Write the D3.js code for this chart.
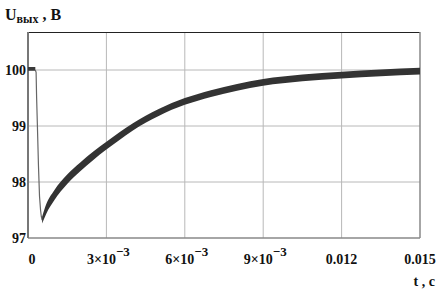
<!DOCTYPE html>
<html><head><meta charset="utf-8">
<script src="https://cdn.jsdelivr.net/npm/d3@7"></script>
<style>
html,body{margin:0;padding:0;background:#fff;}
svg text{font-family:"Liberation Serif","Times New Roman",serif;font-weight:bold;fill:#111;}
</style></head>
<body><svg id="c" width="440" height="290"></svg>
<script>
// ---- data ----
const xTicks = [0, 0.003, 0.006, 0.009, 0.012, 0.015];
const xTickLabels = [["0", ""], ["3\u00D710", "\u22123"], ["6\u00D710", "\u22123"], ["9\u00D710", "\u22123"], ["0.012", ""], ["0.015", ""]];
const yTicks = [97, 98, 99, 100];
const yTickLabels = ["97", "98", "99", "100"];
// steady state before the load step
const tFlat = [0, 0.0001, 0.0002, 0.00028];
const uFlat = [100.02, 100.02, 100.02, 100.02];
const rFlat = [0.035, 0.035, 0.035, 0.035];
// fast drop after the step
const tDrop = [0.00028, 0.00031, 0.00033, 0.00036, 0.0004, 0.00044, 0.00048, 0.00051, 0.00054];
const uDrop = [100.0, 99.96, 99.5, 99.0, 98.3, 97.75, 97.5, 97.38, 97.32];
// recovery (centre of the ripple band) and ripple half-amplitude
const tRec = [0.00054, 0.0007, 0.001, 0.0015, 0.002, 0.0025, 0.003, 0.0035, 0.004, 0.0045, 0.005, 0.0055, 0.006, 0.007, 0.008, 0.009, 0.0105, 0.012, 0.0135, 0.015];
const uRec = [97.32, 97.52, 97.76, 98.05, 98.27, 98.47, 98.65, 98.82, 98.98, 99.12, 99.24, 99.35, 99.44, 99.58, 99.69, 99.78, 99.86, 99.91, 99.95, 99.98];
const rRec = [0.06, 0.085, 0.09, 0.085, 0.08, 0.075, 0.07, 0.068, 0.065, 0.063, 0.062, 0.06, 0.06, 0.06, 0.06, 0.06, 0.06, 0.06, 0.06, 0.06];

const svg = d3.select("#c");
const L = 28, R = 420, T = 32, B = 238;
const x = d3.scaleLinear().domain([0, 0.015]).range([L, R]);
const y = d3.scaleLinear().domain([97, 97 + (B - T) / 56]).range([B, T]);

// grid
svg.append("g").selectAll("line").data(xTicks.slice(1, -1)).join("line")
  .attr("x1", d => x(d)).attr("x2", d => x(d)).attr("y1", T).attr("y2", B)
  .attr("stroke", "#b8b8b8").attr("stroke-width", 1);
svg.append("g").selectAll("line").data(yTicks.slice(1)).join("line")
  .attr("x1", L).attr("x2", R).attr("y1", d => y(d)).attr("y2", d => y(d))
  .attr("stroke", "#b8b8b8").attr("stroke-width", 1);

// frame
svg.append("line").attr("x1", L).attr("x2", R).attr("y1", T + 0.5).attr("y2", T + 0.5).attr("stroke", "#222").attr("stroke-width", 1);
svg.append("line").attr("x1", R).attr("x2", R).attr("y1", T).attr("y2", B).attr("stroke", "#888").attr("stroke-width", 1.5);
svg.append("line").attr("x1", L).attr("x2", R).attr("y1", B).attr("y2", B).attr("stroke", "#888").attr("stroke-width", 1.5);
svg.append("line").attr("x1", L).attr("x2", L).attr("y1", T).attr("y2", B).attr("stroke", "#777").attr("stroke-width", 2);

// data
const pts = (ts, us, rs) => ts.map((t, i) => ({t, u: us[i], r: rs ? rs[i] : 0}));
const area = d3.area().x(d => x(d.t)).y0(d => y(d.u - d.r)).y1(d => y(d.u + d.r)).curve(d3.curveMonotoneX);

svg.append("path").datum(pts(tFlat, uFlat, rFlat)).attr("d", area).attr("fill", "#3a3a3a");
svg.append("path").datum(pts(tDrop, uDrop)).attr("d", d3.line().x(d => x(d.t)).y(d => y(d.u)))
  .attr("fill", "none").attr("stroke", "#666").attr("stroke-width", 1.2);
svg.append("path").datum(pts(tRec, uRec, rRec)).attr("d", area).attr("fill", "#333");

// y tick labels
svg.append("g").selectAll("text").data(yTicks).join("text")
  .attr("x", L - 2).attr("y", d => y(d) + 5).attr("text-anchor", "end")
  .attr("font-size", 14).text((d, i) => yTickLabels[i]);

// x tick labels
const xl = svg.append("g").selectAll("text").data(xTicks).join("text")
  .attr("x", (d, i) => i === 0 ? x(d) + 4 : x(d) + (xTickLabels[i][1] ? 2 : 0))
  .attr("y", 264).attr("text-anchor", "middle").attr("font-size", 14);
xl.append("tspan").text((d, i) => xTickLabels[i][0]);
xl.append("tspan").attr("dy", -8).attr("font-size", 13).text((d, i) => xTickLabels[i][1]);

// axis titles
const yt = svg.append("text").attr("x", 5).attr("y", 20).attr("font-size", 16);
yt.append("tspan").text("U");
yt.append("tspan").attr("font-size", 12).attr("dy", 3).text("вых");
yt.append("tspan").attr("dy", -3).text(" , B");
svg.append("text").attr("x", 435).attr("y", 286).attr("text-anchor", "end").attr("font-size", 14).text("t , c");
</script></body></html>
